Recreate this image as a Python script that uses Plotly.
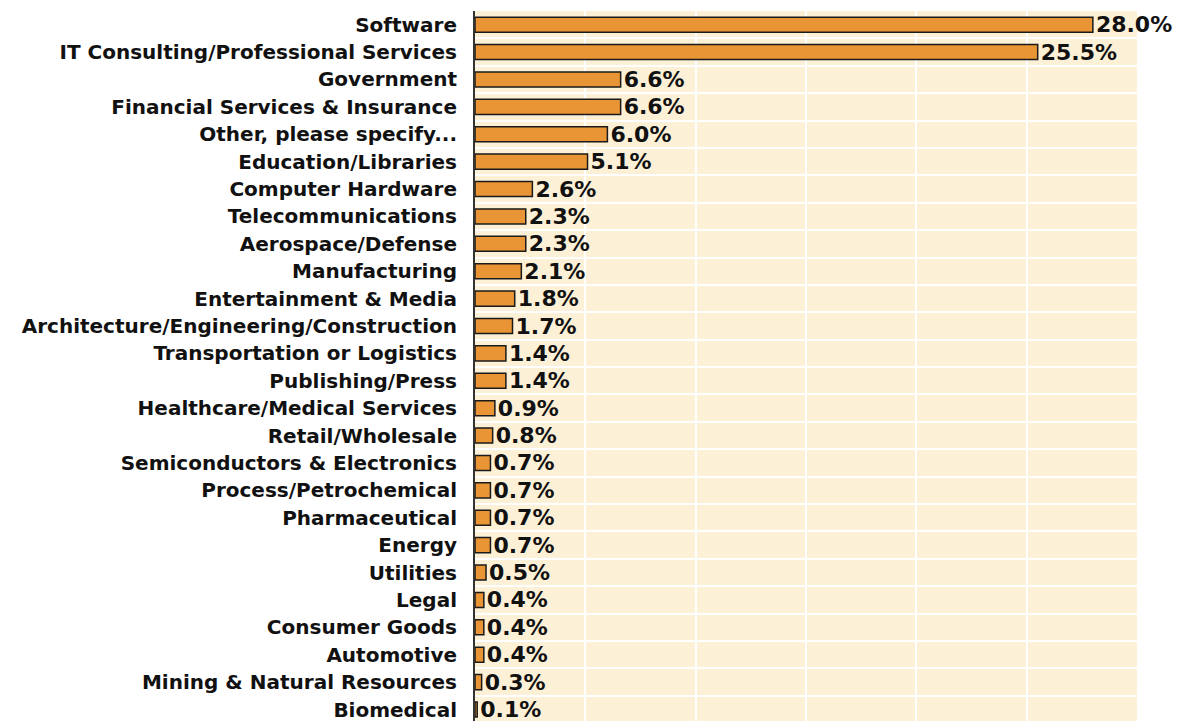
import plotly.graph_objects as go

BG = "#FCF0D7"
BAR = "#E99535"
TEXT = "#111111"

industries = [
    "Software",
    "IT Consulting/Professional Services",
    "Government",
    "Financial Services & Insurance",
    "Other, please specify...",
    "Education/Libraries",
    "Computer Hardware",
    "Telecommunications",
    "Aerospace/Defense",
    "Manufacturing",
    "Entertainment & Media",
    "Architecture/Engineering/Construction",
    "Transportation or Logistics",
    "Publishing/Press",
    "Healthcare/Medical Services",
    "Retail/Wholesale",
    "Semiconductors & Electronics",
    "Process/Petrochemical",
    "Pharmaceutical",
    "Energy",
    "Utilities",
    "Legal",
    "Consumer Goods",
    "Automotive",
    "Mining & Natural Resources",
    "Biomedical",
]
share_pct = [
    28.0, 25.5, 6.6, 6.6, 6.0, 5.1, 2.6, 2.3, 2.3, 2.1, 1.8, 1.7, 1.4,
    1.4, 0.9, 0.8, 0.7, 0.7, 0.7, 0.7, 0.5, 0.4, 0.4, 0.4, 0.3, 0.1,
]

fig = go.Figure(
    go.Bar(
        x=share_pct,
        y=industries,
        orientation="h",
        width=0.55,
        marker=dict(color=BAR, line=dict(color="#1a1a1a", width=1.5)),
        texttemplate="%{x:.1f}%",
        textposition="outside",
        constraintext="none",
        textfont=dict(family="DejaVu Sans", size=22, color=TEXT, weight="bold"),
        cliponaxis=False,
        hoverinfo="x+y",
    )
)

# the page body adds an 8px offset, so margins are set 8px short on left/top
fig.update_layout(
    width=1186,
    height=721,
    paper_bgcolor="white",
    plot_bgcolor=BG,
    font=dict(family="DejaVu Sans", color=TEXT, size=20, weight="bold"),
    margin=dict(l=467, r=57, t=3, b=8, autoexpand=False),
    showlegend=False,
)
fig.update_xaxes(
    range=[0, 30],
    dtick=5,
    showgrid=True,
    gridcolor="white",
    gridwidth=1.5,
    zeroline=False,
    showticklabels=False,
    automargin=False,
)
fig.update_yaxes(
    type="category",
    range=[25.42, -0.5],
    tickson="boundaries",
    showgrid=True,
    gridcolor="white",
    gridwidth=1.5,
    showline=True,
    linecolor="#333333",
    linewidth=2,
    ticks="",
    ticklabelstandoff=12,
    automargin=False,
    tickfont=dict(family="DejaVu Sans", size=20, color=TEXT, weight="bold"),
)

fig.write_html("out.html")
